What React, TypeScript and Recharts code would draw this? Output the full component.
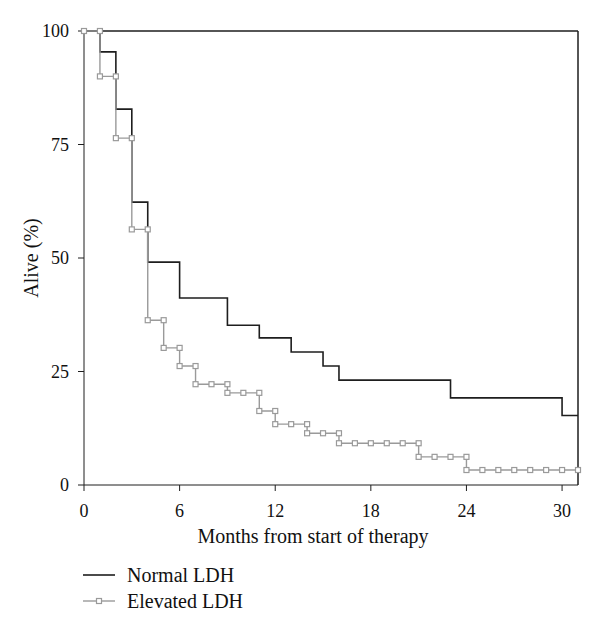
import React from "react";
import {
  LineChart,
  Line,
  XAxis,
  YAxis,
  ReferenceLine,
  Label,
} from "recharts";

// Kaplan-Meier steps, months on x, % alive on y
const normalMonths = [0, 1, 2, 3, 4, 6, 9, 11, 13, 15, 16, 23, 30, 31];
const normalSurvival = [100, 95.4, 82.8, 62.3, 49.1, 41.2, 35.2, 32.4, 29.3, 26.2, 23.1, 19.2, 15.3, 15.3];

const elevatedMonths = [
  0, 1, 1, 2, 2, 3, 3, 4, 4, 5, 5, 6, 6, 7, 7, 8, 9, 9, 10, 11, 11, 12, 12, 13,
  14, 14, 15, 16, 16, 17, 18, 19, 20, 21, 21, 22, 23, 24, 24, 25, 26, 27, 28,
  29, 30, 31,
];
const elevatedSurvival = [
  100, 100, 90, 90, 76.4, 76.4, 56.3, 56.3, 36.3, 36.3, 30.2, 30.2, 26.2, 26.2,
  22.2, 22.2, 22.2, 20.3, 20.3, 20.3, 16.3, 16.3, 13.4, 13.4, 13.4, 11.4, 11.4,
  11.4, 9.2, 9.2, 9.2, 9.2, 9.2, 9.2, 6.2, 6.2, 6.2, 6.2, 3.3, 3.3, 3.3, 3.3,
  3.3, 3.3, 3.3, 3.3,
];

const monthTicks = [0, 6, 12, 18, 24, 30];
const aliveTicks = [0, 25, 50, 75, 100];

const normalData = normalMonths.map((m, i) => ({ month: m, alive: normalSurvival[i] }));
const elevatedData = elevatedMonths.map((m, i) => ({ month: m, alive: elevatedSurvival[i] }));

const FONT = "'Liberation Serif', 'DejaVu Serif', serif";
const BLACK = "#1e1e1e";
const GRAY = "#9a9a9a";

function SquareDot(props: any) {
  const { cx, cy } = props;
  if (cx == null || cy == null) return null;
  return (
    <rect x={cx - 2.5} y={cy - 2.5} width={5} height={5} fill="#fff" stroke={GRAY} strokeWidth={1.2} />
  );
}

export default function App() {
  const tick = { fill: "#111", fontSize: 18, fontFamily: FONT };
  return (
    <div style={{ position: "fixed", left: 0, top: 0, width: 600, height: 631, background: "#fff" }}>
      <LineChart width={600} height={631} margin={{ top: 31, right: 22, left: 24, bottom: 116 }}>
        <XAxis
          type="number"
          dataKey="month"
          domain={[0, 31]}
          ticks={monthTicks}
          tickSize={6}
          tickMargin={13}
          height={30}
          stroke={BLACK}
          tick={tick}
          allowDuplicatedCategory={false}
        >
          <Label
            content={(p: any) => (
              <text
                x={p.viewBox.x + 229}
                y={p.viewBox.y + 58}
                textAnchor="middle"
                fill="#111"
                fontSize={20}
                fontFamily={FONT}
              >
                Months from start of therapy
              </text>
            )}
          />
        </XAxis>
        <YAxis
          type="number"
          domain={[0, 100]}
          ticks={aliveTicks}
          tickSize={6}
          tickMargin={9}
          width={60}
          stroke={BLACK}
          tick={tick}
        >
          <Label
            content={(p: any) => {
              const x = p.viewBox.x + 14;
              const y = p.viewBox.y + p.viewBox.height / 2;
              return (
                <text
                  x={x}
                  y={y}
                  transform={`rotate(-90 ${x} ${y})`}
                  textAnchor="middle"
                  fill="#111"
                  fontSize={20}
                  fontFamily={FONT}
                >
                  Alive (%)
                </text>
              );
            }}
          />
        </YAxis>
        <ReferenceLine y={100} stroke={BLACK} strokeWidth={1.5} />
        <ReferenceLine x={31} stroke={BLACK} strokeWidth={1.5} />
        <Line
          data={normalData}
          dataKey="alive"
          type="stepAfter"
          stroke={BLACK}
          strokeWidth={1.6}
          dot={false}
          isAnimationActive={false}
        />
        <Line
          data={elevatedData}
          dataKey="alive"
          type="stepAfter"
          stroke={GRAY}
          strokeWidth={1.4}
          dot={<SquareDot />}
          isAnimationActive={false}
        />
      </LineChart>
      <div style={{ position: "absolute", left: 83, top: 562, fontFamily: FONT, fontSize: 20, color: "#111" }}>
        <div style={{ display: "flex", alignItems: "center", height: 26 }}>
          <svg width={32} height={10} style={{ marginRight: 12 }}>
            <line x1={0} y1={5} x2={32} y2={5} stroke={BLACK} strokeWidth={1.6} />
          </svg>
          <span>Normal LDH</span>
        </div>
        <div style={{ display: "flex", alignItems: "center", height: 26 }}>
          <svg width={32} height={10} style={{ marginRight: 12 }}>
            <line x1={0} y1={5} x2={32} y2={5} stroke={GRAY} strokeWidth={1.4} />
            <rect x={13.5} y={2.5} width={5} height={5} fill="#fff" stroke={GRAY} strokeWidth={1.2} />
          </svg>
          <span>Elevated LDH</span>
        </div>
      </div>
    </div>
  );
}
